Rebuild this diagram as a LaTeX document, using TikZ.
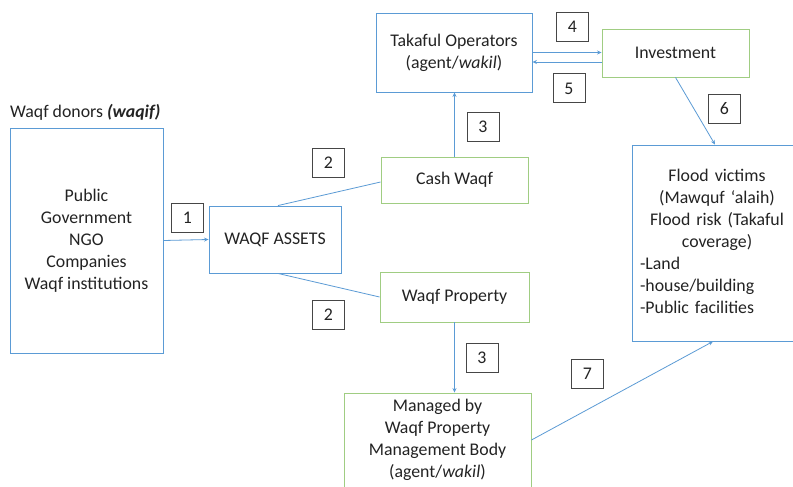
\documentclass[tikz,border=0pt]{standalone}
\usepackage{fontspec}
\setmainfont{Carlito}
\usetikzlibrary{arrows.meta,calc}
\definecolor{boxblue}{RGB}{91,155,213}
\definecolor{boxgreen}{RGB}{160,205,130}
\definecolor{linkblue}{RGB}{91,155,213}
\definecolor{txt}{RGB}{35,35,35}
\definecolor{numgray}{RGB}{70,70,70}
\tikzset{
  bluebox/.style={draw=boxblue, line width=0.9pt, rectangle, inner sep=0pt, align=center, text=txt},
  greenbox/.style={draw=boxgreen, line width=0.9pt, rectangle, inner sep=0pt, align=center, text=txt},
  numbox/.style={draw=numgray, line width=1pt, rectangle, inner sep=0pt, minimum width=32pt, minimum height=29pt, text=txt},
  link/.style={draw=linkblue, line width=0.8pt},
  arr/.style={link, -{Stealth[length=4.5pt,width=4pt]}},
}
\begin{document}
\begin{tikzpicture}[x=1pt,y=-1pt, font=\fontsize{17.8}{22}\selectfont]
\clip (0,0) rectangle (793,487);
\fill[white] (0,0) rectangle (793,487);

% main boxes
\node[bluebox, minimum width=153pt, minimum height=225pt] (donors) at (86.5,240.5)
  {Public\\Government\\NGO\\Companies\\Waqf institutions};
\node[text=txt, anchor=west, inner sep=0pt] (donorlabel) at (10,112) {Waqf donors \textbf{\textit{(waqif)}}};
\node[bluebox, minimum width=132pt, minimum height=67pt] (assets) at (275,239.5) {WAQF ASSETS};
\node[greenbox, minimum width=147pt, minimum height=46pt] (cash) at (454.5,180) {Cash Waqf};
\node[greenbox, minimum width=149pt, minimum height=50pt] (property) at (454.5,297) {Waqf Property};
\node[greenbox, minimum width=187pt, minimum height=94pt] (managed) at (437.5,440)
  {Managed by\\Waqf Property\\Management Body\\(agent/\textit{wakil})};
\node[bluebox, minimum width=156pt, minimum height=79pt] (takaful) at (454,52.5)
  {Takaful Operators\\(agent/\textit{wakil})};
\node[greenbox, minimum width=147pt, minimum height=48pt] (invest) at (675.5,53) {Investment};
\node[bluebox, minimum width=170pt, minimum height=196pt] (flood) at (717,243) {};
\node[text=txt, text width=154pt, align=left, inner sep=0pt] (floodtext) at (717,241)
  {{\centering Flood victims\\(Mawquf ‘alaih)\\Flood risk (Takaful\\coverage)\par}%
   -Land\\-house/building\\-Public facilities};

% number boxes
\node[numbox] (n1) at (187.5,218) {1};
\node[numbox] (n2a) at (328.5,163) {2};
\node[numbox] (n2b) at (328.5,314.5) {2};
\node[numbox] (n3a) at (483,127) {3};
\node[numbox] (n3b) at (482,358) {3};
\node[numbox] (n4) at (572.5,27) {4};
\node[numbox] (n5) at (569,88.5) {5};
\node[numbox] (n6) at (724.5,109) {6};
\node[numbox] (n7) at (587.5,373.5) {7};

% connectors
\draw[arr] (donors.east) -- (assets.west);
\draw[link] ($(assets.north)+(3,0)$) -- ($(cash.west)+(0,2)$);
\draw[link] ($(assets.south)+(3,0)$) -- (property.west);
\draw[arr] (cash.north) -- (cash.north |- takaful.south);
\draw[arr] (property.south) -- (property.south |- managed.north);
\draw[arr] (takaful.east) -- (takaful.east -| invest.west);
\coordinate (i5) at ($(invest.west)+(0,9)$);
\draw[arr] (i5) -- (i5 -| takaful.east);
\draw[arr] (invest.south) -- ($(flood.north)+(-2,0)$);
\draw[arr] (managed.east) -- ($(flood.south)+(-4,0)$);
\end{tikzpicture}
\end{document}
